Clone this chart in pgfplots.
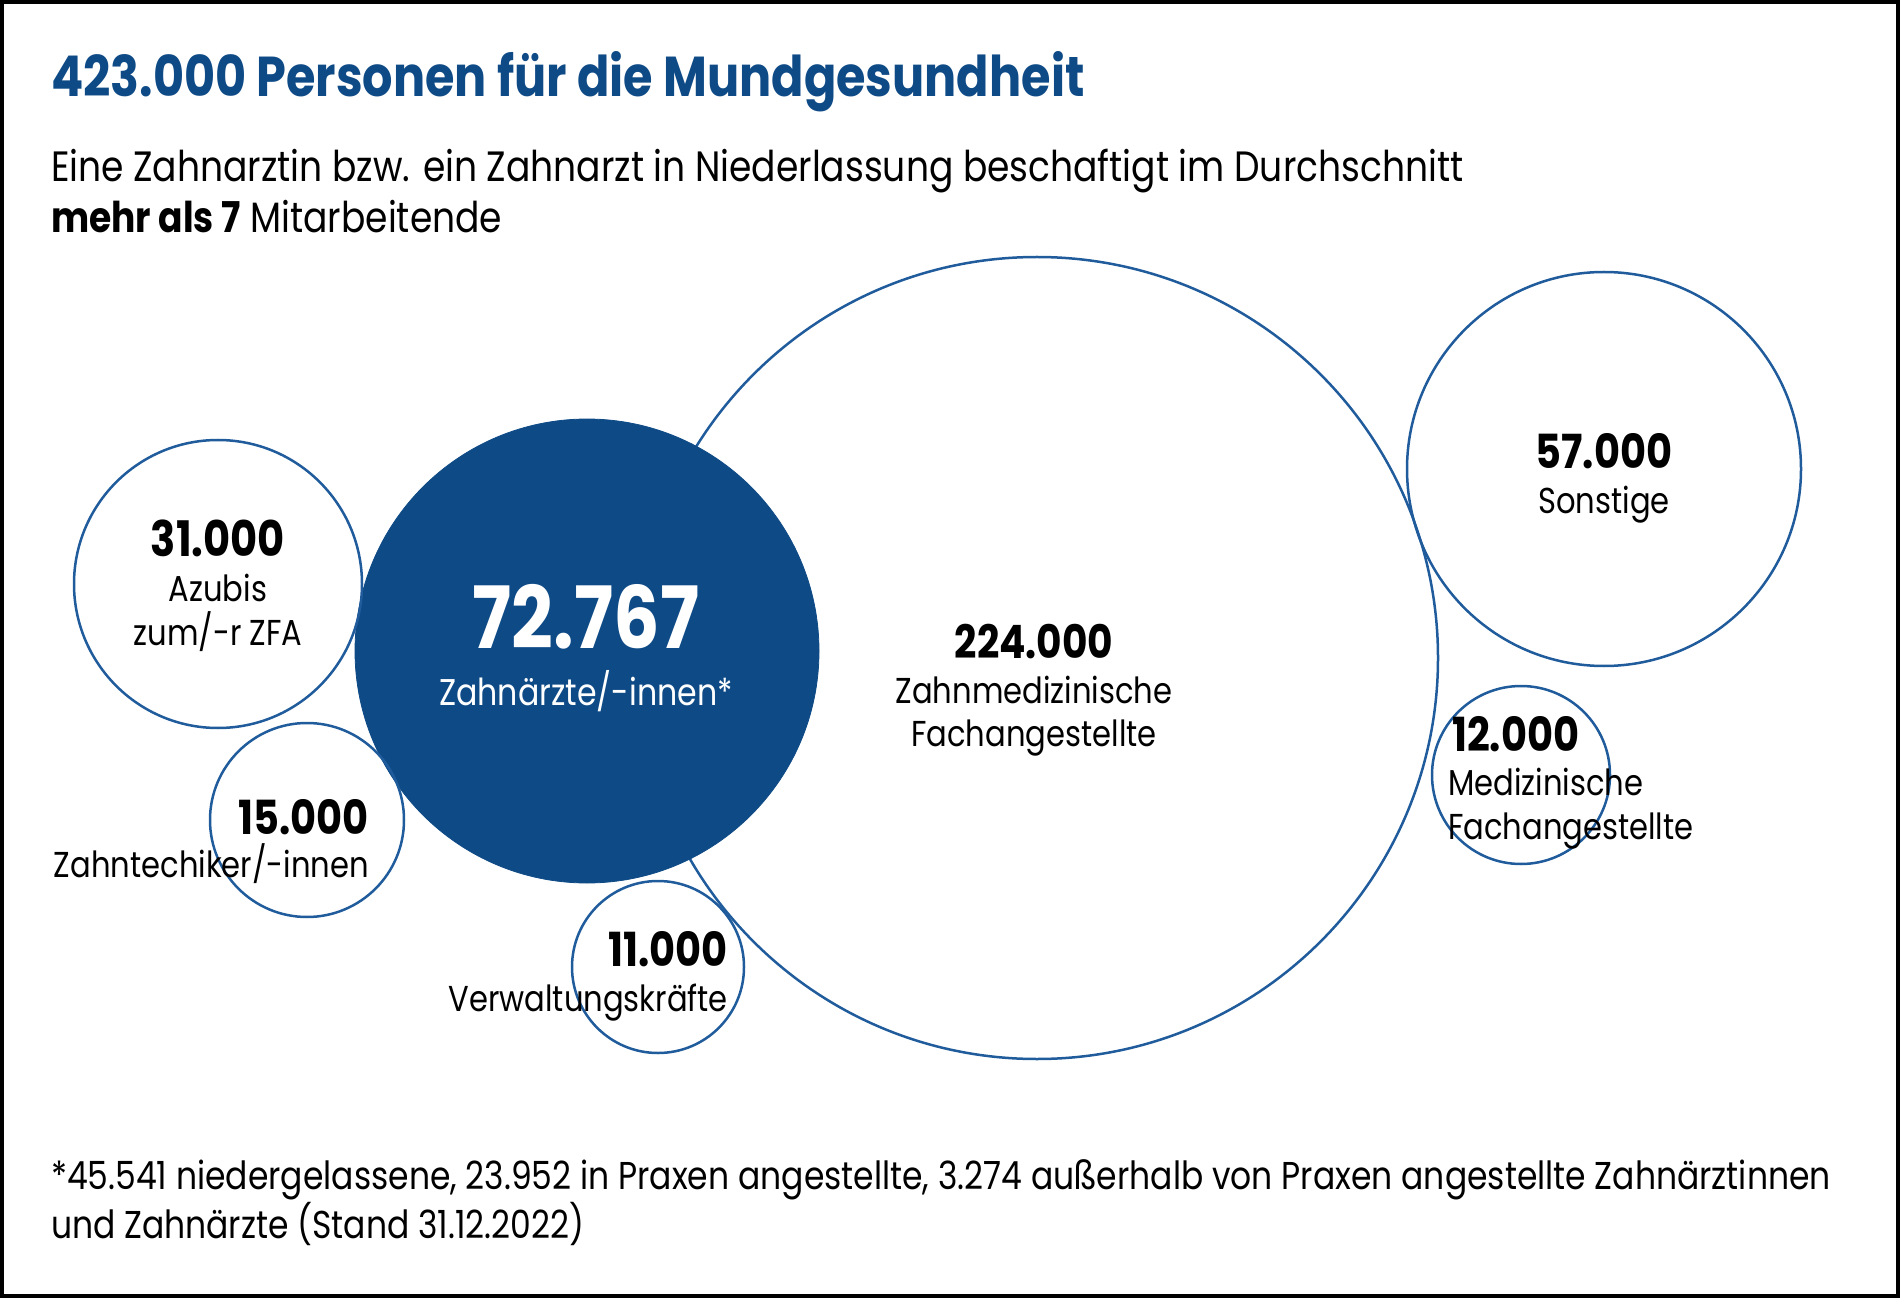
\documentclass[border=0pt]{standalone}
\usepackage{pgfplots}
\pgfplotsset{compat=1.18}
\usepackage{pgfplotstable}
\usepackage{fontspec}
\setmainfont{Poppins}[FakeStretch=0.85]
\definecolor{kzbvblue}{RGB}{14,74,134}
\definecolor{ringblue}{RGB}{32,92,156}

% centre x, centre y (pixels, y downwards), radius r (pixels)
\pgfplotstableread{
x    y    r
1037 658  401
}\bigring
\pgfplotstableread{
x    y    r
587  651  232
}\dentists
\pgfplotstableread{
x    y    r
218  584  144
307  820  97
658  967  86
1604 469  197
1521 775  89
}\rings

\newcommand{\fs}[1]{\fontsize{#1pt}{#1pt}\selectfont}

\begin{document}
\begin{tikzpicture}
\begin{axis}[
  set layers=standard,
  scale only axis, width=950pt, height=649pt,
  xmin=0, xmax=1900, ymin=0, ymax=1298, y dir=reverse,
  hide axis, clip=false,
  bubble/.style={scatter, only marks, mark=o,
    scatter/use mapped color={draw=ringblue},
    mark options={line width=1.25pt},
    visualization depends on={0.5*\thisrow{r} \as \rad},
    scatter/@pre marker code/.append style={/tikz/mark size=\rad}},
  every node/.style={inner sep=0pt},
]
\addplot[bubble, on layer=pre main] table {\bigring};
\addplot[only marks, mark=*, mark size=116pt, color=kzbvblue, on layer=main] table {\dentists};
\addplot[bubble, on layer=axis descriptions] table {\rings};

\begin{pgfonlayer}{axis foreground}
% titles
\node[anchor=base west, text=kzbvblue, font=\bfseries\fs{28.1}] at (axis cs:44,97) {423.000 Personen für die Mundgesundheit};
\node[anchor=base west, font=\fs{21.2}] at (axis cs:44,182) {Eine Zahnarztin bzw. ein Zahnarzt in Niederlassung beschaftigt im Durchschnitt};
\node[anchor=base west, font=\fs{21.2}] at (axis cs:44,233) {\textbf{mehr als 7} Mitarbeitende};

% bubble labels
\node[anchor=base, font=\bfseries\fs{24.5}] at (axis cs:218,557) {31.000};
\node[anchor=base, font=\fs{18}] at (axis cs:218,601) {Azubis};
\node[anchor=base, font=\fs{18}] at (axis cs:218,645) {zum/-r ZFA};

\node[anchor=base, text=white, font=\bfseries\fs{43}] at (axis cs:586,648) {72.767};
\node[anchor=base, text=white, font=\fs{18.6}] at (axis cs:586,705) {Zahnärzte/-innen*};

\node[anchor=base, font=\bfseries\fs{23}] at (axis cs:1034,658) {224.000};
\node[anchor=base, font=\fs{18}] at (axis cs:1034,703) {Zahnmedizinische};
\node[anchor=base, font=\fs{18}] at (axis cs:1034,746) {Fachangestellte};

\node[anchor=base, font=\bfseries\fs{23.5}] at (axis cs:1604,469) {57.000};
\node[anchor=base, font=\fs{18}] at (axis cs:1604,514) {Sonstige};

\node[anchor=base west, font=\bfseries\fs{23.5}] at (axis cs:1445,751) {12.000};
\node[anchor=base west, font=\fs{18}] at (axis cs:1441,795) {Medizinische};
\node[anchor=base west, font=\fs{18}] at (axis cs:1441,839) {Fachangestellte};

\node[anchor=base east, font=\bfseries\fs{23.5}] at (axis cs:376,834) {15.000};
\node[anchor=base east, font=\fs{18}] at (axis cs:376,877) {Zahntechiker/-innen};

\node[anchor=base east, font=\bfseries\fs{23.5}] at (axis cs:735,966) {11.000};
\node[anchor=base east, font=\fs{18}] at (axis cs:735,1011) {Verwaltungskräfte};

% footnote
\node[anchor=base west, font=\fs{19.4}] at (axis cs:44,1189) {*45.541 niedergelassene, 23.952 in Praxen angestellte, 3.274 außerhalb von Praxen angestellte Zahnärztinnen};
\node[anchor=base west, font=\fs{19.4}] at (axis cs:44,1238) {und Zahnärzte (Stand 31.12.2022)};

% frame
\draw[line width=2pt] (axis cs:2,2) rectangle (axis cs:1898,1296);
\end{pgfonlayer}
\end{axis}
\end{tikzpicture}
\end{document}
